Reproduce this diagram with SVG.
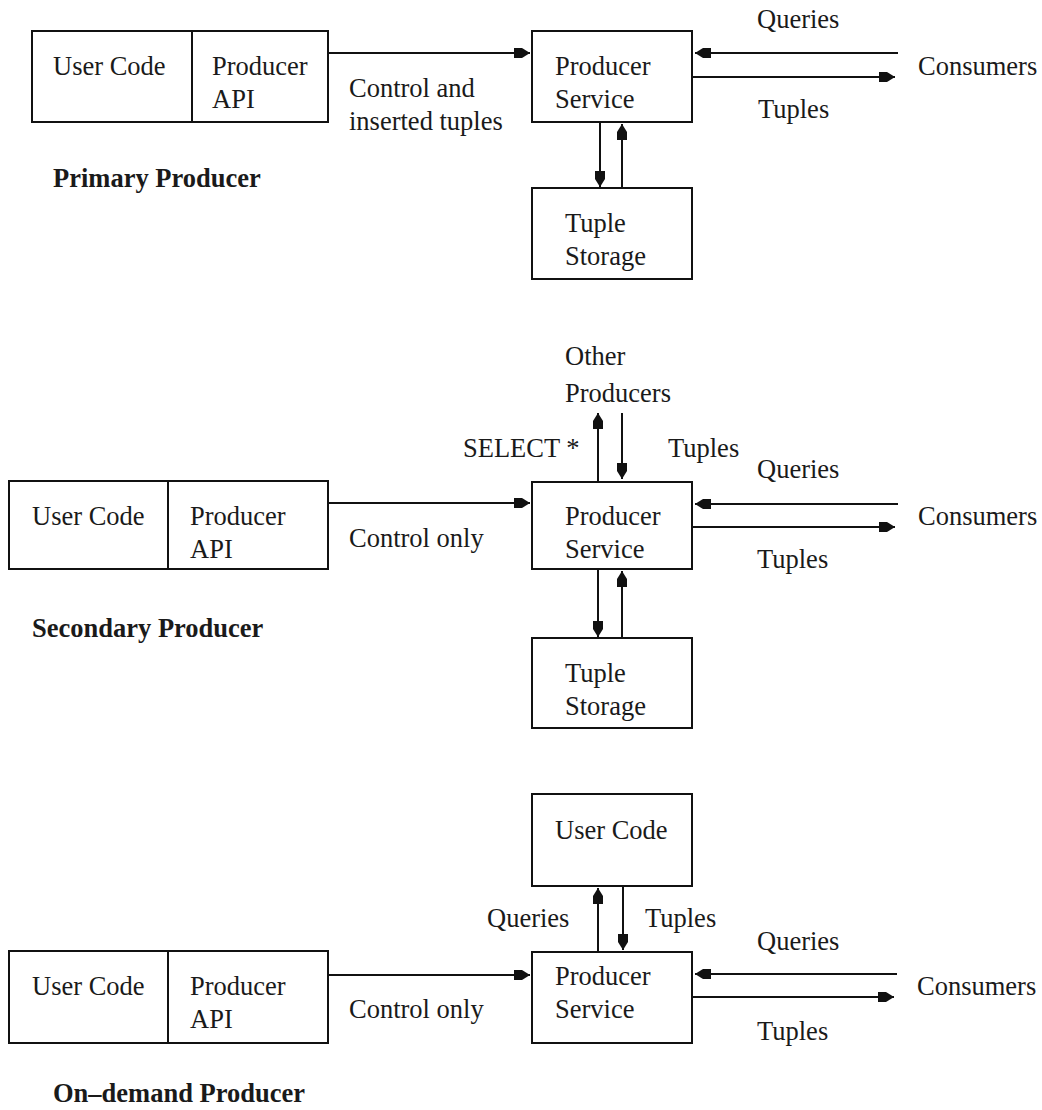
<svg xmlns="http://www.w3.org/2000/svg" width="1042" height="1110" viewBox="0 0 1042 1110">
  <style>
    .box { fill: #fff; stroke: #111; stroke-width: 2; }
    .div { stroke: #111; stroke-width: 2; }
    .line { stroke: #111; stroke-width: 2; fill: none; }
    .arr { marker-end: url(#head); }
    text { font-family: "Liberation Serif", "Times New Roman", serif; font-size: 26.5px; fill: #1a1a1a; }
    .title { font-weight: bold; }
  </style>
  <defs>
    <marker id="head" markerUnits="userSpaceOnUse" markerWidth="18" markerHeight="12" viewBox="-17 -6 18 12" refX="0" refY="0" orient="auto">
      <path d="M0,0 L-8,-5 L-16,-5 L-16,5 L-8,5 Z" fill="#111"/>
    </marker>
  </defs>
  <rect width="1042" height="1110" fill="#fff"/>

  <!-- Primary producer -->
  <g id="primary-api">
    <rect class="box" x="32" y="31" width="296" height="91"/>
    <line class="div" x1="192" y1="31" x2="192" y2="122"/>
    <text x="53" y="75">User Code</text>
    <text x="212" y="75">Producer</text>
    <text x="212" y="108">API</text>
  </g>
  <g id="primary-service">
    <rect class="box" x="532" y="31" width="160" height="91"/>
    <text x="555" y="75">Producer</text>
    <text x="555" y="108">Service</text>
  </g>
  <g id="primary-storage">
    <rect class="box" x="532" y="188" width="160" height="91"/>
    <text x="565" y="232">Tuple</text>
    <text x="565" y="265">Storage</text>
  </g>
  <g id="primary-consumers">
    <text x="918" y="75">Consumers</text>
  </g>
  <text class="title" x="53" y="187">Primary Producer</text>

  <!-- Secondary producer -->
  <g id="secondary-api">
    <rect class="box" x="9" y="481" width="319" height="88"/>
    <line class="div" x1="168" y1="481" x2="168" y2="569"/>
    <text x="32" y="525">User Code</text>
    <text x="190" y="525">Producer</text>
    <text x="190" y="558">API</text>
  </g>
  <g id="secondary-service">
    <rect class="box" x="532" y="482" width="160" height="87"/>
    <text x="565" y="525">Producer</text>
    <text x="565" y="558">Service</text>
  </g>
  <g id="secondary-storage">
    <rect class="box" x="532" y="638" width="160" height="90"/>
    <text x="565" y="682">Tuple</text>
    <text x="565" y="715">Storage</text>
  </g>
  <g id="secondary-others">
    <text x="565" y="365">Other</text>
    <text x="565" y="402">Producers</text>
  </g>
  <g id="secondary-consumers">
    <text x="918" y="525">Consumers</text>
  </g>
  <text class="title" x="32" y="637">Secondary Producer</text>

  <!-- On-demand producer -->
  <g id="ondemand-api">
    <rect class="box" x="9" y="951" width="319" height="92"/>
    <line class="div" x1="168" y1="951" x2="168" y2="1043"/>
    <text x="32" y="995">User Code</text>
    <text x="190" y="995">Producer</text>
    <text x="190" y="1028">API</text>
  </g>
  <g id="ondemand-usercode">
    <rect class="box" x="532" y="794" width="160" height="92"/>
    <text x="555" y="839">User Code</text>
  </g>
  <g id="ondemand-service">
    <rect class="box" x="532" y="952" width="160" height="91"/>
    <text x="555" y="985">Producer</text>
    <text x="555" y="1018">Service</text>
  </g>
  <g id="ondemand-consumers">
    <text x="917" y="995">Consumers</text>
  </g>
  <text class="title" x="53" y="1102">On–demand Producer</text>

  <!-- Connectors -->
  <g id="connectors">
    <!-- primary -->
    <line class="line arr" x1="328" y1="53" x2="530" y2="53"/>
    <line class="line arr" x1="898" y1="53" x2="695" y2="53"/>
    <line class="line arr" x1="692" y1="77" x2="895" y2="77"/>
    <line class="line arr" x1="600" y1="122" x2="600" y2="187"/>
    <line class="line arr" x1="622" y1="188" x2="622" y2="124"/>
    <!-- secondary -->
    <line class="line arr" x1="328" y1="503" x2="530" y2="503"/>
    <line class="line arr" x1="898" y1="504" x2="695" y2="504"/>
    <line class="line arr" x1="692" y1="527" x2="895" y2="527"/>
    <line class="line arr" x1="598" y1="482" x2="598" y2="413"/>
    <line class="line arr" x1="622" y1="413" x2="622" y2="479"/>
    <line class="line arr" x1="598" y1="569" x2="598" y2="637"/>
    <line class="line arr" x1="622" y1="638" x2="622" y2="571"/>
    <!-- on-demand -->
    <line class="line arr" x1="328" y1="975" x2="530" y2="975"/>
    <line class="line arr" x1="897" y1="974" x2="695" y2="974"/>
    <line class="line arr" x1="692" y1="997" x2="894" y2="997"/>
    <line class="line arr" x1="598" y1="952" x2="598" y2="888"/>
    <line class="line arr" x1="623" y1="886" x2="623" y2="950"/>
  </g>

  <!-- Connector labels -->
  <g id="labels">
    <text x="349" y="97">Control and</text>
    <text x="349" y="130">inserted tuples</text>
    <text x="757" y="28">Queries</text>
    <text x="758" y="118">Tuples</text>

    <text x="349" y="547">Control only</text>
    <text x="463" y="457">SELECT *</text>
    <text x="668" y="457">Tuples</text>
    <text x="757" y="478">Queries</text>
    <text x="757" y="568">Tuples</text>

    <text x="349" y="1018">Control only</text>
    <text x="487" y="927">Queries</text>
    <text x="645" y="927">Tuples</text>
    <text x="757" y="950">Queries</text>
    <text x="757" y="1040">Tuples</text>
  </g>
</svg>
